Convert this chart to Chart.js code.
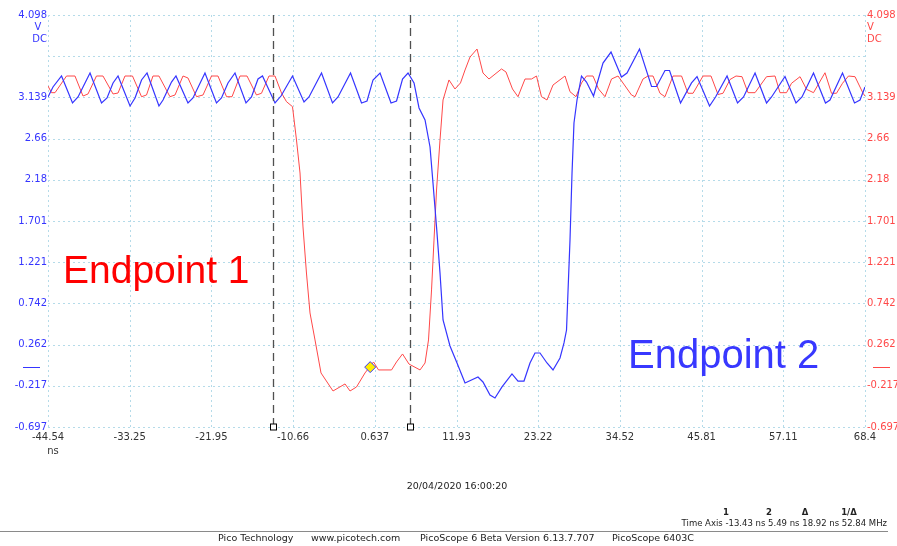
<!DOCTYPE html>
<html lang="en">
<head>
  <meta charset="UTF-8" />
  <title>PicoScope - Endpoint 1 / Endpoint 2</title>
  <script src="https://cdn.jsdelivr.net/npm/chart.js"></script>
  <style>
    html, body { margin: 0; padding: 0; background: #fff; }
    canvas { display: block; }
  </style>
</head>
<body>
  <canvas id="scope" width="897" height="546"></canvas>

  <script>
    // Channel B (blue) - vertices, time in ns, volts
    const timeBlue = [-44.54,-43.85,-42.67,-41.15,-40.39,-38.73,-37.14,-36.38,-35.55,-34.86,
      -33.20,-32.51,-31.61,-30.85,-29.20,-28.64,-27.47,-26.85,-25.19,-24.50,
      -22.84,-21.25,-20.56,-19.66,-18.69,-17.17,-16.41,-15.51,-14.89,-13.16,
      -12.33,-10.74,-9.15,-8.46,-6.73,-5.21,-4.45,-2.72,-1.20,-0.44,
      0.39,1.36,2.88,3.64,4.47,5.23,6.06,6.75,7.58,8.27,
      8.68,9.17,9.65,10.07,11.03,12.00,13.11,14.90,15.59,16.56,
      17.25,18.22,19.60,20.43,21.26,22.09,22.78,23.47,24.44,25.27,
      26.24,26.79,27.14,27.62,27.90,28.17,28.59,29.21,29.90,30.87,
      32.18,33.29,34.74,35.50,37.23,38.89,39.58,40.75,41.38,42.90,
      44.42,45.18,46.91,47.74,49.33,50.78,51.61,53.20,54.79,55.48,
      57.34,58.86,59.69,61.28,62.94,63.56,65.29,66.95,67.71,68.40];
    const voltBlue = [3.144,3.260,3.388,3.074,3.144,3.423,3.074,3.132,3.307,3.388,
      3.039,3.132,3.342,3.423,3.039,3.109,3.318,3.388,3.074,3.132,
      3.423,3.074,3.132,3.307,3.423,3.074,3.144,3.353,3.388,3.074,
      3.155,3.388,3.085,3.144,3.423,3.074,3.144,3.423,3.074,3.097,
      3.342,3.423,3.074,3.097,3.353,3.423,3.307,3.016,2.876,2.562,
      2.143,1.631,1.095,0.548,0.246,0.048,-0.185,-0.115,-0.173,-0.324,
      -0.359,-0.231,-0.080,-0.162,-0.162,0.048,0.164,0.164,0.048,-0.033,
      0.106,0.281,0.432,1.479,2.259,2.841,3.109,3.388,3.318,3.155,
      3.539,3.667,3.376,3.423,3.702,3.266,3.266,3.452,3.452,3.074,
      3.307,3.382,3.039,3.144,3.388,3.074,3.144,3.423,3.074,3.144,
      3.382,3.074,3.144,3.423,3.074,3.109,3.423,3.074,3.109,3.260];

    // Channel A (red)
    const timeRed = [-44.54,-44.06,-43.57,-41.98,-40.81,-39.70,-39.01,-37.84,-36.94,-35.55,
      -34.86,-33.90,-32.86,-31.61,-30.92,-30.03,-29.20,-27.68,-26.98,-25.88,
      -25.19,-24.01,-23.11,-21.94,-21.04,-19.86,-19.10,-18.00,-17.03,-15.72,
      -15.03,-13.99,-13.16,-12.26,-11.57,-10.74,-10.19,-9.70,-9.29,-8.81,
      -8.32,-7.63,-6.80,-5.14,-3.48,-2.79,-1.89,-0.72,0.46,1.15,
      2.95,3.64,4.47,5.36,6.89,7.58,8.06,8.48,8.82,9.17,
      9.65,10.07,10.89,11.72,12.48,13.11,13.80,14.77,15.59,16.42,
      18.15,18.77,19.67,20.43,21.40,22.30,22.99,23.68,24.44,25.27,
      26.93,27.62,28.45,29.21,29.90,30.80,31.56,32.46,33.36,34.26,
      36.12,36.61,37.71,38.40,39.10,40.06,40.75,41.86,43.04,43.93,
      44.63,46.01,47.11,48.08,48.77,49.74,50.57,51.40,52.23,53.20,
      54.79,55.96,56.65,57.55,58.24,59.42,60.32,61.28,62.87,63.77,
      64.46,65.29,66.12,67.02,68.13,68.40];
    const voltRed = [3.272,3.194,3.194,3.388,3.388,3.155,3.179,3.388,3.388,3.179,
      3.190,3.388,3.388,3.147,3.167,3.388,3.388,3.147,3.167,3.388,
      3.365,3.147,3.167,3.388,3.388,3.147,3.147,3.388,3.388,3.167,
      3.187,3.388,3.388,3.190,3.089,3.031,2.643,2.259,1.631,1.095,
      0.630,0.316,-0.068,-0.278,-0.196,-0.278,-0.231,-0.068,0.060,-0.033,
      -0.033,0.060,0.153,0.036,-0.033,0.048,0.316,0.898,1.479,2.061,
      2.643,3.109,3.342,3.237,3.307,3.458,3.609,3.702,3.423,3.353,
      3.470,3.435,3.237,3.147,3.353,3.353,3.388,3.147,3.109,3.283,
      3.388,3.205,3.147,3.307,3.388,3.388,3.237,3.147,3.353,3.388,
      3.167,3.147,3.353,3.388,3.388,3.187,3.147,3.388,3.388,3.187,
      3.187,3.388,3.388,3.173,3.187,3.347,3.388,3.380,3.194,3.194,
      3.380,3.388,3.194,3.194,3.303,3.380,3.233,3.194,3.426,3.187,
      3.187,3.303,3.388,3.380,3.187,3.155];

    // trigger point, time cursors
    const triggerTime = [0];
    const triggerVolt = [0];
    const cursorTimes = [-13.43, 5.49];

    // axes
    const xTicks = [-44.54, -33.25, -21.95, -10.66, 0.637, 11.93, 23.22, 34.52, 45.81, 57.11, 68.4];
    const xTickLabels = ['-44.54', '-33.25', '-21.95', '-10.66', '0.637', '11.93', '23.22', '34.52', '45.81', '57.11', '68.4'];
    const yTicks = [-0.697, -0.2175, 0.262, 0.7415, 1.221, 1.7005, 2.18, 2.6595, 3.139, 3.6185, 4.098];
    const yTickLabels = ['-0.697', '-0.217', '0.262', '0.742', '1.221', '1.701', '2.18', '2.66', '3.139', '', '4.098'];

    const BLUE = '#3535ff';
    const RED = '#ff4848';
    const GRID = '#b5dbe9';
    const FONT = 'DejaVu Sans';

    const toPoints = (ts, vs) => ts.map((t, i) => ({ x: t, y: vs[i] }));

    const fitWidth = w => scale => { scale.width = w; };
    const setTicks = (vals) => scale => { scale.ticks = vals.map(v => ({ value: v })); };

    const extras = {
      id: 'extras',
      beforeDatasetsDraw(chart) {
        // dotted graticule
        const ctx = chart.ctx;
        const xs = chart.scales.x;
        const ys = chart.scales.y;
        const area = chart.chartArea;
        ctx.save();
        ctx.strokeStyle = GRID;
        ctx.lineWidth = 1;
        ctx.setLineDash([2, 3]);
        xTicks.forEach(t => {
          const px = Math.round(xs.getPixelForValue(t)) + 0.5;
          ctx.beginPath(); ctx.moveTo(px, area.top); ctx.lineTo(px, area.bottom); ctx.stroke();
        });
        yTicks.forEach(v => {
          const py = Math.round(ys.getPixelForValue(v)) + 0.5;
          ctx.beginPath(); ctx.moveTo(area.left, py); ctx.lineTo(area.right, py); ctx.stroke();
        });
        ctx.restore();
      },
      afterDatasetsDraw(chart) {
        const ctx = chart.ctx;
        const xs = chart.scales.x;
        const area = chart.chartArea;

        // time cursors
        ctx.save();
        ctx.strokeStyle = '#505050';
        ctx.lineWidth = 1.3;
        ctx.setLineDash([8, 5]);
        cursorTimes.forEach(t => {
          const px = Math.round(xs.getPixelForValue(t)) + 0.5;
          ctx.beginPath();
          ctx.moveTo(px, area.top);
          ctx.lineTo(px, area.bottom);
          ctx.stroke();
        });
        ctx.setLineDash([]);
        ctx.lineWidth = 1;
        ctx.strokeStyle = '#000';
        ctx.fillStyle = '#fff';
        cursorTimes.forEach(t => {
          const px = Math.round(xs.getPixelForValue(t)) + 0.5;
          ctx.fillRect(px - 3, area.bottom - 3, 6, 6);
          ctx.strokeRect(px - 3, area.bottom - 3, 6, 6);
        });
        ctx.restore();
      },
      afterDraw(chart) {
        const ctx = chart.ctx;
        const ys = chart.scales.y;
        ctx.save();

        // zero-level markers
        const y0 = Math.round(ys.getPixelForValue(0)) + 0.5;
        ctx.lineWidth = 1;
        ctx.strokeStyle = BLUE;
        ctx.beginPath(); ctx.moveTo(23, y0); ctx.lineTo(40, y0); ctx.stroke();
        ctx.strokeStyle = RED;
        ctx.beginPath(); ctx.moveTo(873, y0); ctx.lineTo(890, y0); ctx.stroke();

        // units
        ctx.font = '10px ' + FONT;
        ctx.textBaseline = 'middle';
        ctx.fillStyle = BLUE;
        ctx.textAlign = 'center';
        ctx.fillText('V', 38, 27);
        ctx.textAlign = 'right';
        ctx.fillText('DC', 47, 39);
        ctx.fillStyle = RED;
        ctx.textAlign = 'left';
        ctx.fillText('V', 867, 27);
        ctx.fillText('DC', 867, 39);
        ctx.fillStyle = '#333';
        ctx.textAlign = 'center';
        ctx.fillText('ns', 53, 451);

        // endpoint labels
        ctx.textBaseline = 'alphabetic';
        ctx.textAlign = 'left';
        ctx.font = '39px "Liberation Sans", Arial, sans-serif';
        ctx.fillStyle = '#ff0000';
        ctx.fillText('Endpoint 1', 63, 283);
        ctx.font = '40px "Liberation Sans", Arial, sans-serif';
        ctx.fillStyle = '#3838ff';
        ctx.fillText('Endpoint 2', 628, 368);

        // capture info
        ctx.fillStyle = '#222';
        ctx.font = '9.5px ' + FONT;
        ctx.textBaseline = 'middle';
        ctx.textAlign = 'center';
        ctx.fillText('20/04/2020 16:00:20', 457, 487);

        ctx.font = 'bold 8.5px ' + FONT;
        ctx.fillText('1', 726, 513);
        ctx.fillText('2', 769, 513);
        ctx.fillText('\u0394', 805, 513);
        ctx.fillText('1/\u0394', 849, 513);
        ctx.font = '8.5px ' + FONT;
        ctx.textAlign = 'right';
        ctx.fillText('Time Axis -13.43 ns 5.49 ns 18.92 ns 52.84 MHz', 887, 524);

        ctx.strokeStyle = '#8a8a8a';
        ctx.beginPath(); ctx.moveTo(0, 531.5); ctx.lineTo(888, 531.5); ctx.stroke();

        ctx.fillStyle = '#222';
        ctx.font = '9.5px ' + FONT;
        ctx.textAlign = 'left';
        ctx.fillText('Pico Technology', 218, 539);
        ctx.fillText('www.picotech.com', 311, 539);
        ctx.fillText('PicoScope 6 Beta Version 6.13.7.707', 420, 539);
        ctx.fillText('PicoScope 6403C', 612, 539);
        ctx.restore();
      }
    };

    new Chart(document.getElementById('scope').getContext('2d'), {
      type: 'line',
      data: {
        datasets: [
          {
            label: 'Trigger',
            data: toPoints(triggerTime, triggerVolt),
            showLine: false,
            pointStyle: 'rectRot',
            pointRadius: 5.5,
            backgroundColor: '#ffee00',
            borderColor: BLUE,
            borderWidth: 1,
            order: 0
          },
          {
            label: 'Channel B',
            data: toPoints(timeBlue, voltBlue),
            borderColor: BLUE,
            borderWidth: 1.2,
            pointRadius: 0,
            tension: 0,
            order: 1
          },
          {
            label: 'Channel A',
            data: toPoints(timeRed, voltRed),
            yAxisID: 'y2',
            borderColor: RED,
            borderWidth: 1,
            pointRadius: 0,
            tension: 0,
            order: 2
          }
        ]
      },
      options: {
        responsive: false,
        animation: false,
        devicePixelRatio: 1,
        layout: { padding: { top: 15, bottom: 99, left: 0, right: 0 } },
        plugins: {
          legend: { display: false },
          tooltip: { enabled: false }
        },
        scales: {
          x: {
            type: 'linear',
            min: -44.54,
            max: 68.4,
            afterBuildTicks: setTicks(xTicks),
            afterFit: scale => { scale.height = 20; },
            grid: { display: false, drawTicks: false },
            border: { display: false },
            ticks: {
              autoSkip: false,
              maxRotation: 0,
              padding: 4,
              color: '#333',
              font: { family: FONT, size: 10 },
              callback: (v, i) => xTickLabels[i]
            }
          },
          y: {
            type: 'linear',
            position: 'left',
            min: -0.697,
            max: 4.098,
            afterBuildTicks: setTicks(yTicks),
            afterFit: fitWidth(48),
            grid: { display: false, drawTicks: false },
            border: { display: false },
            ticks: {
              autoSkip: false,
              padding: 1,
              color: BLUE,
              font: { family: FONT, size: 10 },
              callback: (v, i) => yTickLabels[i]
            }
          },
          y2: {
            type: 'linear',
            position: 'right',
            min: -0.697,
            max: 4.098,
            afterBuildTicks: setTicks(yTicks),
            afterFit: fitWidth(32),
            grid: { display: false, drawTicks: false },
            border: { display: false },
            ticks: {
              autoSkip: false,
              padding: 2,
              color: RED,
              font: { family: FONT, size: 10 },
              callback: (v, i) => yTickLabels[i]
            }
          }
        }
      },
      plugins: [extras]
    });
  </script>
</body>
</html>
